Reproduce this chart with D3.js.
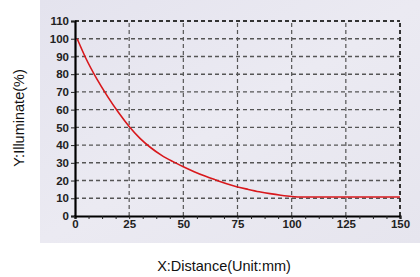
<!DOCTYPE html>
<html>
<head>
<meta charset="utf-8">
<script src="https://cdn.jsdelivr.net/npm/d3@7"></script>
<style>
  body { margin: 0; background: #fff; }
  svg { display: block; }
</style>
</head>
<body>
<div id="chart"></div>
<script>
// values
var distance = [1, 5, 10, 15, 20, 25, 30, 35, 40, 45, 50, 55, 60, 65, 70, 75, 80, 85, 90, 95, 100, 105, 110, 115, 120, 125, 130, 135, 140, 145, 150];
var illuminate = [100, 89, 77.5, 67.5, 58.5, 50.5, 43.8, 38.5, 34.2, 30.8, 27.8, 25, 22.5, 20.3, 18.2, 16.4, 15, 13.7, 12.6, 11.7, 11, 10.7, 10.7, 10.7, 10.7, 10.7, 10.7, 10.7, 10.7, 10.7, 10.7];
var xTicks = [0, 25, 50, 75, 100, 125, 150];
var yTicks = [0, 10, 20, 30, 40, 50, 60, 70, 80, 90, 100, 110];

var width = 420,
    height = 277;
var margin = {left: 75, right: 20, top: 21, bottom: 61};

var svg = d3.select("#chart")
  .append("svg")
  .attr("width", width)
  .attr("height", height)

// marble-ish backdrop
var defs = svg.append("defs")
var grad = defs.append("linearGradient")
  .attr("id", "bg")
  .attr("x1", 0).attr("y1", 0).attr("x2", 1).attr("y2", 1)
grad.append("stop").attr("offset", "0%").attr("stop-color", "#e4e3ee")
grad.append("stop").attr("offset", "50%").attr("stop-color", "#ebeaf2")
grad.append("stop").attr("offset", "100%").attr("stop-color", "#e6e5ee")

svg.append("rect")
  .attr("x", 40).attr("y", 0)
  .attr("width", 380).attr("height", 243)
  .attr("fill", "url(#bg)")

var x = d3.scaleLinear()
  .domain([0, 150])
  .range([margin.left, width - margin.right])

var y = d3.scaleLinear()
  .domain([0, 110])
  .range([height - margin.bottom, margin.top])

// grid
svg.append("g")
  .selectAll("line")
  .data(yTicks.slice(1))
  .enter().append("line")
  .attr("x1", x(0)).attr("x2", x(150))
  .attr("y1", function (d) { return y(d) })
  .attr("y2", function (d) { return y(d) })
  .attr("stroke", function (d) { return d == 110 ? "#333" : "#555" })
  .attr("stroke-width", function (d) { return d == 110 ? 2 : 1.4 })
  .attr("stroke-dasharray", "4,3")

svg.append("g")
  .selectAll("line")
  .data(xTicks.slice(1))
  .enter().append("line")
  .attr("y1", y(0)).attr("y2", y(110))
  .attr("x1", function (d) { return x(d) })
  .attr("x2", function (d) { return x(d) })
  .attr("stroke", function (d) { return d == 150 ? "#333" : "#555" })
  .attr("stroke-width", function (d) { return d == 150 ? 2 : 1.2 })
  .attr("stroke-dasharray", "4,3")

// axes
var xAxis = d3.axisBottom(x)
  .tickValues(d3.range(0, 150.1, 6.25))
  .tickSize(3)
  .tickFormat(function (d) { return xTicks.indexOf(d) >= 0 ? d : "" })

var gx = svg.append("g")
  .attr("transform", "translate(0," + y(0) + ")")
  .call(xAxis)
gx.select(".domain").attr("stroke", "#000").attr("stroke-width", 2.2)
gx.selectAll(".tick line").attr("stroke", "#222").attr("stroke-width", 1)
gx.selectAll("text")
  .attr("dy", "0.55em")
  .style("font-family", "Liberation Sans, Arial, sans-serif")
  .style("font-size", "11.5px")
  .style("font-weight", "bold")
  .attr("fill", "#222")

var yAxis = d3.axisLeft(y)
  .tickValues(yTicks)
  .tickSize(4)

var gy = svg.append("g")
  .attr("transform", "translate(" + x(0) + ",0)")
  .call(yAxis)
gy.select(".domain").attr("stroke", "#000").attr("stroke-width", 2.2)
gy.selectAll(".tick line").attr("stroke", "#222")
gy.selectAll("text")
  .attr("x", -6)
  .style("font-family", "Liberation Sans, Arial, sans-serif")
  .style("font-size", "11.5px")
  .style("font-weight", "bold")
  .attr("fill", "#222")

// curve
var line = d3.line()
  .x(function (d, i) { return x(distance[i]) })
  .y(function (d) { return y(d) })
  .curve(d3.curveMonotoneX)

svg.append("path")
  .datum(illuminate)
  .attr("d", line)
  .attr("fill", "none")
  .attr("stroke", "#d8181c")
  .attr("stroke-width", 1.6)

// labels
svg.append("text")
  .attr("x", 224)
  .attr("y", 271)
  .attr("text-anchor", "middle")
  .style("font-family", "Liberation Sans, Arial, sans-serif")
  .style("font-size", "14.5px")
  .attr("fill", "#111")
  .text("X:Distance(Unit:mm)")

svg.append("text")
  .attr("transform", "translate(24,118) rotate(-90)")
  .attr("text-anchor", "middle")
  .style("font-family", "Liberation Sans, Arial, sans-serif")
  .style("font-size", "14.5px")
  .attr("fill", "#111")
  .text("Y:Illuminate(%)")
</script>
</body>
</html>
